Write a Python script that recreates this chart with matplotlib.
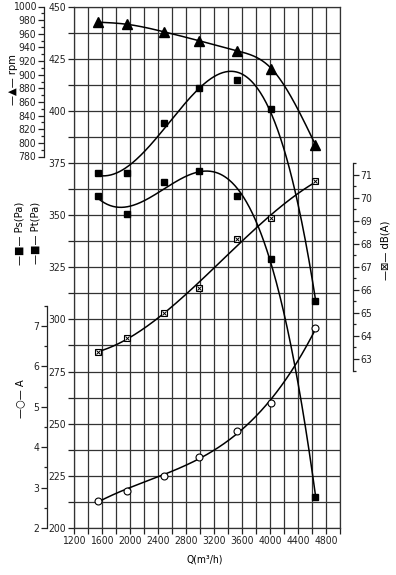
import numpy as np
import matplotlib.pyplot as plt
from matplotlib import font_manager as fm

# pick a narrow sans if there is one, else plain Liberation Sans a bit smaller
fonts = fm.fontManager.ttflist
names = {f.name for f in fonts}
if 'Liberation Sans Narrow' in names:
    plt.rcParams['font.family'] = ['Liberation Sans Narrow', 'DejaVu Sans']
    FS = 8.5
elif any(f.name == 'DejaVu Sans' and str(f.stretch) == 'condensed' for f in fonts):
    plt.rcParams['font.family'] = ['DejaVu Sans']
    plt.rcParams['font.stretch'] = 'condensed'
    FS = 7.5
else:
    plt.rcParams['font.family'] = ['Liberation Sans', 'DejaVu Sans']
    FS = 7.5
plt.rcParams['font.size'] = FS

# flow rate, m3/h
q = [1550, 1950, 2480, 2980, 3530, 4020, 4650]
rpm = [977, 974, 963, 950, 935, 909, 797]
pt = [370, 370, 394, 411, 415, 401, 309]
ps = [359, 350.5, 366, 371, 359, 329, 215]
db = [63.3, 63.9, 65.0, 66.1, 68.2, 69.1, 70.7]
amp = [2.68, 2.92, 3.29, 3.76, 4.40, 5.10, 6.95]

DPI = 100
W, H = 396, 575
fig = plt.figure(figsize=(W / DPI, H / DPI), dpi=DPI)


def pts(p):
    # pixels -> points
    return p * 72 / DPI


L, R = 74, 340


def box(top, bottom):
    return [L / W, 1 - bottom / H, (R - L) / W, (bottom - top) / H]


def fit(x, y, deg):
    # least squares trend line, like the hand drawn ones
    p = np.polynomial.Polynomial.fit(x, y, deg)
    xs = np.linspace(x[0], x[-1], 300)
    return xs, p(xs)


def spline(x, y, n=300):
    # natural cubic spline through the points
    x = np.asarray(x, float)
    y = np.asarray(y, float)
    h = np.diff(x)
    m = len(x)
    A = np.zeros((m, m))
    b = np.zeros(m)
    A[0, 0] = A[-1, -1] = 1
    for i in range(1, m - 1):
        A[i, i - 1] = h[i - 1]
        A[i, i] = 2 * (h[i - 1] + h[i])
        A[i, i + 1] = h[i]
        b[i] = 3 * ((y[i + 1] - y[i]) / h[i] - (y[i] - y[i - 1]) / h[i - 1])
    c = np.linalg.solve(A, b)
    xs = np.linspace(x[0], x[-1], n)
    k = np.clip(np.searchsorted(x, xs) - 1, 0, m - 2)
    dx = xs - x[k]
    bk = (y[k + 1] - y[k]) / h[k] - h[k] * (2 * c[k] + c[k + 1]) / 3
    dk = (c[k + 1] - c[k]) / (3 * h[k])
    return xs, y[k] + bk * dx + c[k] * dx ** 2 + dk * dx ** 3


grid_kw = dict(color='#333333', lw=0.9)
tick_kw = dict(direction='out', length=4, width=0.9, colors='#222222', pad=1.5, labelsize=FS)

# main axes: pressure
ax = fig.add_axes(box(6.5, 528))
ax.set_xlim(1200, 5000)
ax.set_ylim(200, 450)
ax.set_xticks(np.arange(1200, 4801, 400))
ax.set_xticks(np.arange(1200, 5001, 200), minor=True)
ax.set_yticks(np.arange(200, 451, 25))
ax.set_yticks(np.arange(200, 451, 12.5), minor=True)
ax.grid(which='both', **grid_kw)
ax.tick_params(which='both', **tick_kw)
for s in ax.spines.values():
    s.set_color('#333333')
    s.set_linewidth(0.9)

xs, ys = fit(q, pt, 4)
ax.plot(xs, ys, color='black', lw=1.1)
ax.plot(q, pt, 's', color='black', ms=5)
xs, ys = fit(q, ps, 4)
ax.plot(xs, ys, color='black', lw=1.1)
ax.plot(q, ps, 's', color='black', ms=5)


def side_axes(top, bottom, side, offset):
    a = fig.add_axes(box(top, bottom), facecolor='none')
    a.set_xlim(1200, 5000)
    a.set_xticks([])
    for k, s in a.spines.items():
        s.set_visible(k == side)
    a.spines[side].set_position(('outward', pts(offset)))
    a.spines[side].set_linewidth(0.9)
    a.spines[side].set_color('#222222')
    if side == 'right':
        a.yaxis.tick_right()
    a.tick_params(which='both', **tick_kw)
    a.tick_params(which='minor', length=2.5)
    return a


# rpm
ar = side_axes(6.5, 156.5, 'left', 30)
ar.set_ylim(780, 1000)
ar.set_yticks(np.arange(780, 1001, 20))
ar.set_yticks(np.arange(780, 1001, 10), minor=True)
xs, ys = spline(q, rpm)
ar.plot(xs, ys, color='black', lw=1.1)
ar.plot(q, rpm, '^', color='black', ms=6.5)

# current, A
aa = side_axes(305.8, 528, 'left', 27)
aa.set_ylim(2, 7.5)
aa.set_yticks(np.arange(2, 8, 1))
aa.set_yticks(np.arange(2, 7.51, 0.5), minor=True)
xs, ys = fit(q, amp, 3)
aa.plot(xs, ys, color='black', lw=1.1)
aa.plot(q, amp, 'o', mfc='white', mec='black', mew=0.8, ms=5)

# noise, dB(A)
ad = side_axes(163, 370.5, 'right', 13)
ad.set_ylim(62.5, 71.5)
ad.set_yticks(np.arange(63, 72, 1))
ad.set_yticks(np.arange(62.5, 71.51, 0.5), minor=True)
xs, ys = fit(q, db, 3)
ad.plot(xs, ys, color='black', lw=1.1)
ad.plot(q, db, 's', mfc='white', mec='black', mew=0.8, ms=4.5)
ad.plot(q, db, 'x', color='black', mew=0.7, ms=3.5)

# axis captions
cap = dict(rotation=90, ha='center', va='center', fontsize=FS + 0.5)
fig.text(13 / W, 1 - 80 / H, '—▲— rpm', **cap)
fig.text(19 / W, 1 - 233 / H, '—■— Ps(Pa)', **cap)
fig.text(35 / W, 1 - 233 / H, '—■— Pt(Pa)', **cap)
fig.text(20 / W, 1 - 399 / H, '—○— A', **cap)
fig.text(385 / W, 1 - 250 / H, '—⊠— dB(A)', **cap)
fig.text(205 / W, 1 - 559 / H, 'Q(m³/h)', ha='center', va='center', fontsize=FS)

fig.savefig('out.png', dpi=DPI)
